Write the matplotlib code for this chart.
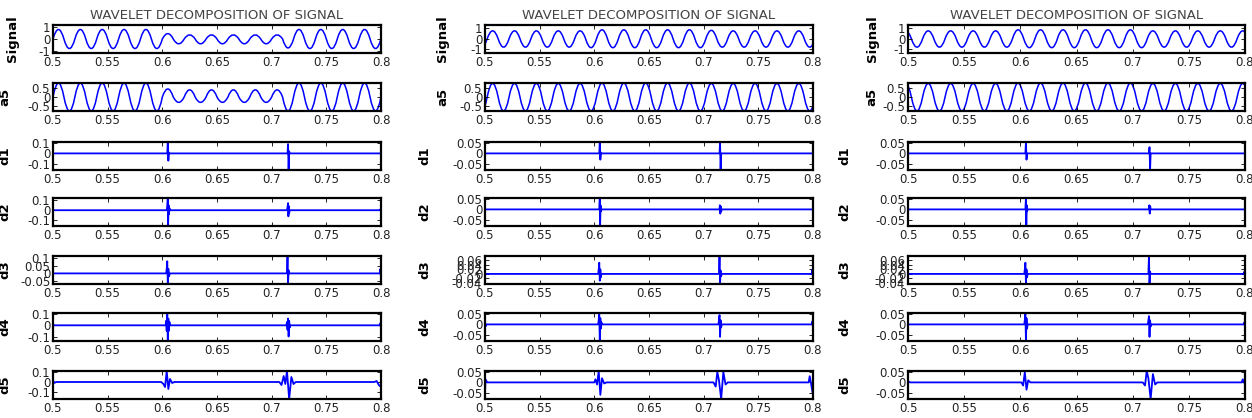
import matplotlib
matplotlib.use("Agg")
import matplotlib.pyplot as plt
from matplotlib.path import Path
from matplotlib.patches import PathPatch

plt.rcParams['font.family'] = ['DejaVu Sans']

TITLE = "WAVELET DECOMPOSITION OF SIGNAL"
ROW_LABELS = ["Signal", "a5", "d1", "d2", "d3", "d4", "d5"]
X_TICKS = [0.5, 0.55, 0.6, 0.65, 0.7, 0.75, 0.8]
X_LABELS = ["0.5", "0.55", "0.6", "0.65", "0.7", "0.75", "0.8"]

# signed peak of each half cycle (50 Hz -> peaks 0.01 s apart), time of first peak
c1_t0 = 0.505
c1_sig = [0.8, -0.8, 0.8, -0.8, 0.8, -0.8, 0.8, -0.8, 0.8, -0.8,
          0.45, -0.4, 0.35, -0.4, 0.35, -0.4, 0.35, -0.4, 0.35, -0.4, 0.35,
          -0.75, 0.8, -0.8, 0.8, -0.8, 0.8, -0.8, 0.8, -0.8]
c1_a5 = [0.78, -0.78, 0.78, -0.78, 0.78, -0.78, 0.78, -0.78, 0.78, -0.78,
         0.45, -0.3, 0.4, -0.3, 0.4, -0.3, 0.4, -0.3, 0.4, -0.3, 0.4,
         -0.78, 0.78, -0.78, 0.78, -0.78, 0.78, -0.78, 0.78, -0.78]
c2_t0 = 0.497
c2_sig = [-0.8, 0.75, -0.8, 0.75, -0.8, 0.75, -0.8, 0.75, -0.8, 0.75, -0.85,
          0.85, -0.85, 0.85, -0.85, 0.85, -0.85, 0.85, -0.85, 0.85, -0.85,
          0.8, -0.8, 0.75, -0.8, 0.75, -0.8, 0.75, -0.8, 0.75, -0.8]
c2_a5 = [-0.82, 0.8, -0.82, 0.8, -0.82, 0.8, -0.82, 0.8, -0.82, 0.8, -0.82,
         0.82, -0.82, 0.82, -0.82, 0.82, -0.82, 0.82, -0.82, 0.82, -0.82,
         0.8, -0.82, 0.8, -0.82, 0.8, -0.82, 0.8, -0.82, 0.8, -0.82]
c3_t0 = 0.498
c3_sig = [0.75, -0.8, 0.75, -0.8, 0.75, -0.8, 0.75, -0.8, 0.75, -0.8, 0.85,
          -0.85, 0.85, -0.85, 0.85, -0.85, 0.85, -0.85, 0.85, -0.85, 0.85,
          -0.85, 0.75, -0.8, 0.75, -0.8, 0.75, -0.8, 0.75, -0.8, 0.75]
c3_a5 = [0.8, -0.82, 0.8, -0.82, 0.8, -0.82, 0.8, -0.82, 0.8, -0.82, 0.82,
         -0.82, 0.82, -0.82, 0.82, -0.82, 0.82, -0.82, 0.82, -0.82, 0.82,
         -0.82, 0.8, -0.82, 0.8, -0.82, 0.8, -0.82, 0.8, -0.82, 0.8]

# detail coefficients: (time, value) vertices, zero elsewhere
c1_d1 = [(0.5, 0), (0.6045, 0), (0.605, 0.11), (0.6055, -0.07), (0.606, 0.01), (0.6065, 0),
         (0.7145, 0), (0.715, 0.09), (0.7155, -0.16), (0.716, 0.02), (0.7165, 0), (0.8, 0)]
c1_d2 = [(0.5, 0), (0.604, 0), (0.6045, 0.04), (0.605, 0.12), (0.6053, -0.155), (0.6057, 0.05),
         (0.606, -0.04), (0.6065, 0.02), (0.607, 0), (0.714, 0), (0.7145, 0.03), (0.715, 0.07),
         (0.7153, -0.06), (0.7157, 0.04), (0.716, -0.03), (0.7165, 0), (0.799, 0),
         (0.7995, 0.01), (0.8, -0.01)]
c1_d3 = [(0.5, 0), (0.6035, 0), (0.604, 0.03), (0.6045, 0.08), (0.605, -0.07), (0.6055, 0.03),
         (0.606, -0.02), (0.607, 0), (0.714, 0), (0.7145, 0.115), (0.715, -0.07), (0.7155, 0.02),
         (0.716, 0), (0.799, 0), (0.7995, 0.03), (0.8, -0.03)]
c1_d4 = [(0.5, 0.01), (0.501, 0), (0.603, 0), (0.6035, 0.04), (0.604, -0.05), (0.6045, 0.11),
         (0.605, -0.14), (0.6055, 0.06), (0.606, -0.05), (0.6065, 0.03), (0.607, 0),
         (0.7135, 0), (0.714, 0.03), (0.7145, -0.04), (0.715, 0.06), (0.7155, -0.1),
         (0.716, 0.04), (0.7165, -0.02), (0.717, 0), (0.799, 0), (0.7995, 0.02), (0.8, -0.02)]
c1_d5 = [(0.5, 0.02), (0.501, -0.01), (0.503, 0), (0.599, 0), (0.601, -0.02), (0.6025, -0.05),
         (0.604, 0.11), (0.6055, -0.07), (0.607, 0.03), (0.609, -0.01), (0.611, 0),
         (0.707, 0), (0.709, -0.03), (0.711, 0.06), (0.7125, -0.02), (0.714, 0.11),
         (0.716, -0.17), (0.718, 0.05), (0.72, -0.02), (0.722, 0), (0.794, 0),
         (0.796, 0.01), (0.798, -0.03), (0.8, -0.05)]

c2_d1 = [(0.5, 0), (0.6045, 0), (0.605, 0.055), (0.6055, -0.03), (0.606, 0.005), (0.6065, 0),
         (0.7145, 0), (0.715, 0.055), (0.7155, -0.08), (0.716, 0), (0.8, 0)]
c2_d2 = [(0.5, 0), (0.6045, 0), (0.605, 0.055), (0.6053, -0.08), (0.6057, 0.02), (0.606, -0.01),
         (0.6065, 0), (0.7145, 0), (0.7148, 0.02), (0.7152, -0.02), (0.7156, 0.015),
         (0.716, -0.01), (0.7165, 0), (0.8, 0)]
c2_d3 = [(0.5, 0.005), (0.5005, 0), (0.6035, 0), (0.604, 0.02), (0.6045, 0.05), (0.605, -0.03),
         (0.6055, 0.02), (0.606, -0.015), (0.6065, 0), (0.714, 0), (0.7145, 0.08),
         (0.715, -0.045), (0.7155, 0.015), (0.716, -0.01), (0.7165, 0), (0.799, 0),
         (0.7995, 0.02), (0.8, -0.02)]
c2_d4 = [(0.5, 0.01), (0.5005, -0.01), (0.501, 0), (0.6035, 0), (0.604, 0.02), (0.6045, 0.055),
         (0.605, -0.08), (0.6055, 0.03), (0.606, -0.02), (0.6065, 0.01), (0.607, 0),
         (0.7135, 0), (0.714, 0.02), (0.7145, 0.045), (0.715, -0.06), (0.7155, 0.02),
         (0.716, -0.015), (0.7165, 0), (0.799, 0), (0.7995, 0.015), (0.8, -0.015)]
c2_d5 = [(0.5, -0.05), (0.5005, 0.015), (0.502, 0), (0.6, 0), (0.601, 0.015), (0.6025, -0.01),
         (0.604, 0.055), (0.6055, -0.06), (0.607, 0.02), (0.609, -0.005), (0.611, 0),
         (0.709, 0), (0.711, -0.02), (0.7125, 0.05), (0.714, 0.01), (0.716, -0.08),
         (0.718, 0.05), (0.72, -0.01), (0.722, 0), (0.796, 0), (0.797, 0.03),
         (0.799, -0.03), (0.8, -0.06)]

c3_d1 = [(0.5, 0), (0.6045, 0), (0.605, 0.055), (0.6055, -0.03), (0.606, 0),
         (0.7145, 0), (0.715, 0.03), (0.7155, -0.08), (0.716, 0), (0.8, 0)]
c3_d2 = [(0.5, 0), (0.6045, 0), (0.605, 0.055), (0.6053, -0.08), (0.6057, 0.02), (0.606, -0.01),
         (0.6065, 0), (0.7145, 0), (0.7148, 0.02), (0.7152, -0.02), (0.7156, 0.015),
         (0.716, 0), (0.8, 0)]
c3_d3 = [(0.5, 0), (0.6035, 0), (0.604, 0.02), (0.6045, 0.05), (0.605, -0.04), (0.6055, 0.02),
         (0.606, -0.015), (0.6065, 0), (0.714, 0), (0.7145, 0.08), (0.715, -0.045),
         (0.7155, 0.01), (0.716, 0), (0.799, 0), (0.7995, 0.01), (0.8, -0.01)]
c3_d4 = [(0.5, 0), (0.6035, 0), (0.604, 0.02), (0.6045, 0.055), (0.605, -0.08), (0.6055, 0.03),
         (0.606, -0.02), (0.6065, 0), (0.7135, 0), (0.714, 0.02), (0.7145, 0.04),
         (0.715, -0.06), (0.7155, 0.02), (0.716, -0.01), (0.7165, 0), (0.799, 0),
         (0.7995, 0.01), (0.8, -0.01)]
c3_d5 = [(0.5, 0.005), (0.502, 0), (0.601, 0), (0.6025, -0.015), (0.604, 0.05),
         (0.6055, -0.035), (0.607, 0.01), (0.609, 0), (0.709, 0), (0.711, -0.015),
         (0.7125, 0.055), (0.714, 0.02), (0.716, -0.08), (0.718, 0.04), (0.72, -0.01),
         (0.722, 0), (0.797, 0), (0.798, 0.015), (0.8, -0.01)]

# y ticks / limits per row
c1_yticks = [[-1, 0, 1], [-0.5, 0, 0.5], [-0.1, 0, 0.1], [-0.1, 0, 0.1],
             [-0.05, 0, 0.05, 0.1], [-0.1, 0, 0.1], [-0.1, 0, 0.1]]
c1_ylims = [(-1.17, 1.17), (-0.78, 0.78), (-0.16, 0.11), (-0.155, 0.12),
            (-0.07, 0.115), (-0.14, 0.11), (-0.17, 0.11)]
c23_yticks = [[-1, 0, 1], [-0.5, 0, 0.5], [-0.05, 0, 0.05], [-0.05, 0, 0.05],
              [-0.04, -0.02, 0, 0.02, 0.04, 0.06], [-0.05, 0, 0.05], [-0.05, 0, 0.05]]
c23_ylims = [(-1.35, 1.3), (-0.82, 0.82), (-0.08, 0.055), (-0.08, 0.055),
             (-0.045, 0.08), (-0.08, 0.055), (-0.08, 0.055)]


def wave_patch(t0, peaks):
    # each half cycle is a quadratic arc from zero crossing to zero crossing
    verts = [(t0 - 0.005, 0.0)]
    codes = [Path.MOVETO]
    for k, p in enumerate(peaks):
        tk = t0 + 0.01 * k
        verts += [(tk, 2 * p), (tk + 0.005, 0.0)]
        codes += [Path.CURVE3, Path.CURVE3]
    return PathPatch(Path(verts, codes), facecolor="none", edgecolor="#0000ff", lw=1.1)


W, H = 1252, 418
fig = plt.figure(figsize=(W / 100, H / 100), dpi=100)

col_left = [53, 485, 908]
col_width = [328, 328, 337]
row_top = [25, 83, 142, 198, 256, 313, 371]
row_h = 28
# x of each row label centre, in pixels
label_x = [[13, 5, 5, 5, 5, 5, 5],
           [443, 443, 425, 425, 425, 425, 425],
           [873, 872, 845, 845, 845, 845, 845]]

columns = [
    (c1_t0, c1_sig, c1_a5, [c1_d1, c1_d2, c1_d3, c1_d4, c1_d5], c1_yticks, c1_ylims),
    (c2_t0, c2_sig, c2_a5, [c2_d1, c2_d2, c2_d3, c2_d4, c2_d5], c23_yticks, c23_ylims),
    (c3_t0, c3_sig, c3_a5, [c3_d1, c3_d2, c3_d3, c3_d4, c3_d5], c23_yticks, c23_ylims),
]

for ci, (t0, sig, a5, details, yticks, ylims) in enumerate(columns):
    for ri in range(7):
        ax = fig.add_axes([col_left[ci] / W, 1 - (row_top[ri] + row_h) / H,
                           col_width[ci] / W, row_h / H])
        if ri < 2:
            ax.add_patch(wave_patch(t0, sig if ri == 0 else a5))
        else:
            pts = details[ri - 2]
            ax.plot([p[0] for p in pts], [p[1] for p in pts], color="#0000ff", lw=1.3)
        ax.set_xlim(0.5, 0.8)
        ax.set_ylim(*ylims[ri])
        ax.set_xticks(X_TICKS)
        ax.set_xticklabels(X_LABELS)
        ax.set_yticks(yticks[ri])
        ax.set_yticklabels(["%g" % y for y in yticks[ri]])
        ax.tick_params(direction="in", length=3, width=0.6, labelsize=8.5, pad=2,
                       top=True, right=True, colors="black")
        ax.tick_params(axis="both", labelcolor="#222222")
        for sp in ax.spines.values():
            sp.set_linewidth(1.6)
        ax.set_ylabel(ROW_LABELS[ri], fontsize=9.5, fontweight="bold")
        ax.yaxis.set_label_coords((label_x[ci][ri] - col_left[ci]) / col_width[ci], 0.5)
        ax.yaxis.label.set_verticalalignment("center")
        if ri == 0:
            ax.set_title(TITLE, fontsize=9.5, color="#444444", pad=4)

fig.savefig("out.png", dpi=100)
